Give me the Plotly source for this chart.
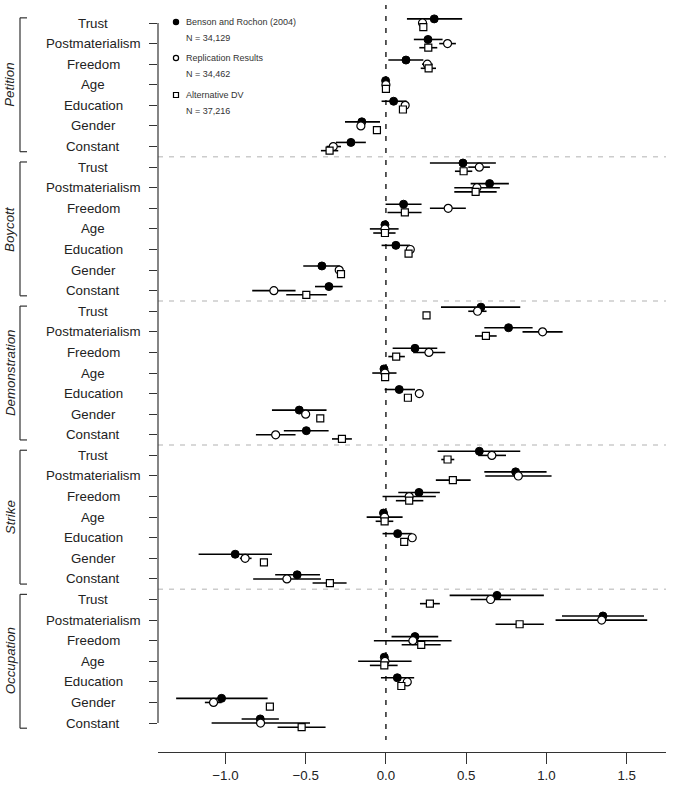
import plotly.graph_objects as go

groups = ["Petition", "Boycott", "Demonstration", "Strike", "Occupation"]
variables = ["Trust", "Postmaterialism", "Freedom", "Age", "Education", "Gender", "Constant"]

# Benson and Rochon (2004): estimate, lower, upper (group-major order)
benson_est = [0.301, 0.262, 0.125, -0.002, 0.048, -0.150, -0.218,
              0.480, 0.646, 0.110, -0.006, 0.062, -0.399, -0.355,
              0.592, 0.764, 0.181, -0.012, 0.083, -0.540, -0.496,
              0.582, 0.808, 0.206, -0.015, 0.073, -0.939, -0.553,
              0.692, 1.352, 0.181, -0.010, 0.071, -1.024, -0.783]
benson_lo = [0.131, 0.174, 0.015, -0.012, -0.027, -0.255, -0.311,
             0.274, 0.528, -0.002, -0.016, -0.027, -0.515, -0.442,
             0.343, 0.613, 0.042, -0.022, -0.008, -0.710, -0.636,
             0.322, 0.613, 0.077, -0.025, -0.021, -1.167, -0.690,
             0.397, 1.097, 0.035, -0.020, -0.031, -1.307, -0.899]
benson_hi = [0.475, 0.353, 0.233, 0.008, 0.129, -0.037, -0.125,
             0.685, 0.766, 0.222, 0.004, 0.150, -0.287, -0.270,
             0.837, 0.914, 0.320, -0.002, 0.181, -0.370, -0.357,
             0.837, 1.001, 0.336, -0.005, 0.164, -0.710, -0.411,
             0.984, 1.608, 0.326, 0.000, 0.176, -0.737, -0.667]

# Replication results
repl_est = [0.228, 0.384, 0.258, 0.000, 0.120, -0.156, -0.328,
            0.582, 0.567, 0.388, -0.006, 0.152, -0.291, -0.698,
            0.571, 0.976, 0.268, -0.006, 0.208, -0.500, -0.687,
            0.660, 0.825, 0.145, -0.008, 0.164, -0.877, -0.617,
            0.652, 1.344, 0.168, -0.006, 0.133, -1.074, -0.781]
repl_lo = [0.213, 0.332, 0.225, -0.012, 0.105, -0.171, -0.370,
           0.513, 0.426, 0.274, -0.100, 0.137, -0.306, -0.833,
           0.513, 0.851, 0.170, -0.085, 0.193, -0.515, -0.810,
           0.575, 0.619, -0.021, -0.120, 0.149, -0.910, -0.827,
           0.528, 1.057, -0.075, -0.173, 0.118, -1.128, -1.086]
repl_hi = [0.243, 0.436, 0.291, 0.012, 0.135, -0.141, -0.280,
           0.648, 0.710, 0.498, 0.079, 0.167, -0.276, -0.563,
           0.627, 1.101, 0.370, 0.066, 0.223, -0.485, -0.563,
           0.748, 1.032, 0.311, 0.104, 0.179, -0.837, -0.405,
           0.779, 1.628, 0.409, 0.160, 0.148, -1.024, -0.473]

# Alternative DV
alt_est = [0.233, 0.264, 0.266, 0.000, 0.106, -0.056, -0.351,
           0.484, 0.559, 0.118, -0.006, 0.141, -0.280, -0.496,
           0.253, 0.623, 0.064, -0.005, 0.137, -0.409, -0.274,
           0.384, 0.417, 0.145, -0.008, 0.114, -0.760, -0.349,
           0.274, 0.833, 0.220, -0.010, 0.096, -0.723, -0.525]
alt_lo = [0.220, 0.208, 0.217, -0.012, 0.093, -0.069, -0.405,
          0.430, 0.426, 0.010, -0.079, 0.128, -0.293, -0.621,
          0.238, 0.555, 0.015, -0.018, 0.124, -0.422, -0.336,
          0.345, 0.311, 0.062, -0.064, 0.101, -0.773, -0.457,
          0.212, 0.683, 0.098, -0.100, 0.083, -0.738, -0.675]
alt_hi = [0.246, 0.320, 0.312, 0.012, 0.119, -0.043, -0.297,
          0.538, 0.690, 0.222, 0.060, 0.154, -0.267, -0.368,
          0.268, 0.690, 0.118, 0.008, 0.150, -0.396, -0.212,
          0.426, 0.528, 0.233, 0.046, 0.127, -0.747, -0.245,
          0.336, 0.984, 0.341, 0.073, 0.109, -0.708, -0.376]

series_names = ["Benson and Rochon (2004)", "Replication Results", "Alternative DV"]
series_n = ["N = 34,129", "N = 34,462", "N = 37,216"]
x_ticks = [-1.0, -0.5, 0.0, 0.5, 1.0, 1.5]

# ---------------- layout geometry ----------------
W, H = 673, 795
ML, MR, MT, MB = 158, 7, 5, 43
PW, PH = W - ML - MR, H - MT - MB
ROW0_PX, ROW_STEP = 23.0, 20.59
XR = [-1.42, 1.745]


def row_of_px(py):
    return (py - ROW0_PX) / ROW_STEP


def px_x(px):
    return (px - ML) / PW


def px_y(py):
    return 1 - (py - MT) / PH


nvar = len(variables)
nrows = len(groups) * nvar
rows = list(range(nrows))

fig = go.Figure()

markers = [
    dict(symbol="circle", size=8, color="black", line=dict(color="black", width=1)),
    dict(symbol="circle", size=8, color="white", line=dict(color="black", width=1.2)),
    dict(symbol="square", size=7, color="white", line=dict(color="black", width=1.2)),
]
offsets = [-0.2, 0.0, 0.2]
data = [(benson_est, benson_lo, benson_hi), (repl_est, repl_lo, repl_hi), (alt_est, alt_lo, alt_hi)]

for (est, lo, hi), mk, off, name in zip(data, markers, offsets, series_names):
    fig.add_trace(go.Scatter(
        x=est,
        y=[r + off for r in rows],
        mode="markers",
        name=name,
        marker=mk,
        error_x=dict(type="data", symmetric=False,
                     array=[h - e for e, h in zip(est, hi)],
                     arrayminus=[e - l for e, l in zip(est, lo)],
                     color="black", thickness=1.6, width=0),
        showlegend=False,
        hoverinfo="x+y",
    ))

shapes = []
annotations = []

# zero line
shapes.append(dict(type="line", xref="x", yref="y", x0=0, x1=0,
                   y0=row_of_px(4), y1=row_of_px(740),
                   line=dict(color="#333", width=1.6, dash="5px,7px"), layer="below"))

# y-axis line
shapes.append(dict(type="line", xref="paper", yref="y", x0=0, x1=0, y0=0, y1=nrows - 1,
                   line=dict(color="#333", width=1.2)))

# group separators
for g in range(1, len(groups)):
    yy = g * nvar - 0.5
    shapes.append(dict(type="line", xref="paper", yref="y", x0=0, x1=1, y0=yy, y1=yy,
                       line=dict(color="#cccccc", width=1.5, dash="5px,6px"), layer="below"))

# row labels (centered)
for r in rows:
    annotations.append(dict(x=px_x(93), y=r, xref="paper", yref="y", text=variables[r % nvar],
                            showarrow=False, xanchor="center", yanchor="middle",
                            font=dict(size=13.3, color="#222")))

# brackets and group labels
bx, btick = px_x(20), px_x(27)
for g, gname in enumerate(groups):
    top, bot = g * nvar - 0.25, g * nvar + nvar - 1 + 0.25
    shapes.append(dict(type="line", xref="paper", yref="y", x0=bx, x1=bx, y0=top, y1=bot,
                       line=dict(color="#333", width=1.2)))
    for yy in (top, bot):
        shapes.append(dict(type="line", xref="paper", yref="y", x0=bx, x1=btick, y0=yy, y1=yy,
                           line=dict(color="#333", width=1.2)))
    annotations.append(dict(x=px_x(10), y=g * nvar + (nvar - 1) / 2, xref="paper", yref="y",
                            text="<i>" + gname + "</i>", textangle=-90, showarrow=False,
                            xanchor="center", yanchor="middle",
                            font=dict(size=13.3, color="#222")))

# custom legend
leg_y = [22, 58, 95]
mx = px_x(176)
for i, (nm, nn) in enumerate(zip(series_names, series_n)):
    yc = px_y(leg_y[i])
    if i < 2:
        shapes.append(dict(type="circle", xref="paper", yref="paper",
                           xsizemode="pixel", ysizemode="pixel", xanchor=mx, yanchor=yc,
                           x0=-2.6, x1=2.6, y0=-2.6, y1=2.6,
                           fillcolor="black" if i == 0 else "white",
                           line=dict(color="black", width=1.2)))
    else:
        shapes.append(dict(type="rect", xref="paper", yref="paper",
                           xsizemode="pixel", ysizemode="pixel", xanchor=mx, yanchor=yc,
                           x0=-2.5, x1=2.5, y0=-2.5, y1=2.5,
                           fillcolor="white", line=dict(color="black", width=1.2)))
    annotations.append(dict(x=px_x(184), y=yc, xref="paper", yref="paper", text=nm,
                            showarrow=False, xanchor="left", yanchor="middle",
                            font=dict(size=9, color="#333")))
    annotations.append(dict(x=px_x(184), y=px_y(leg_y[i] + 16), xref="paper", yref="paper",
                            text=nn, showarrow=False, xanchor="left", yanchor="middle",
                            font=dict(size=9, color="#333")))

fig.update_layout(
    width=W, height=H,
    margin=dict(l=ML, r=MR, t=MT, b=MB, pad=0),
    paper_bgcolor="white", plot_bgcolor="white",
    font=dict(family="Liberation Sans, Arial, sans-serif", color="#222"),
    showlegend=False,
    shapes=shapes, annotations=annotations,
    xaxis=dict(range=XR, tickvals=x_ticks, tickformat=".1f",
               showgrid=False, zeroline=False, showline=True, linecolor="#333", linewidth=1.2,
               ticks="outside", ticklen=11, tickwidth=1.2, tickcolor="#333",
               tickfont=dict(size=13.3, color="#222")),
    yaxis=dict(range=[row_of_px(752), row_of_px(5)], tickvals=rows, showticklabels=False,
               showgrid=False, zeroline=False, showline=False,
               ticks="outside", ticklen=8, tickwidth=1.2, tickcolor="#333"),
)

fig.write_html("out.html")
